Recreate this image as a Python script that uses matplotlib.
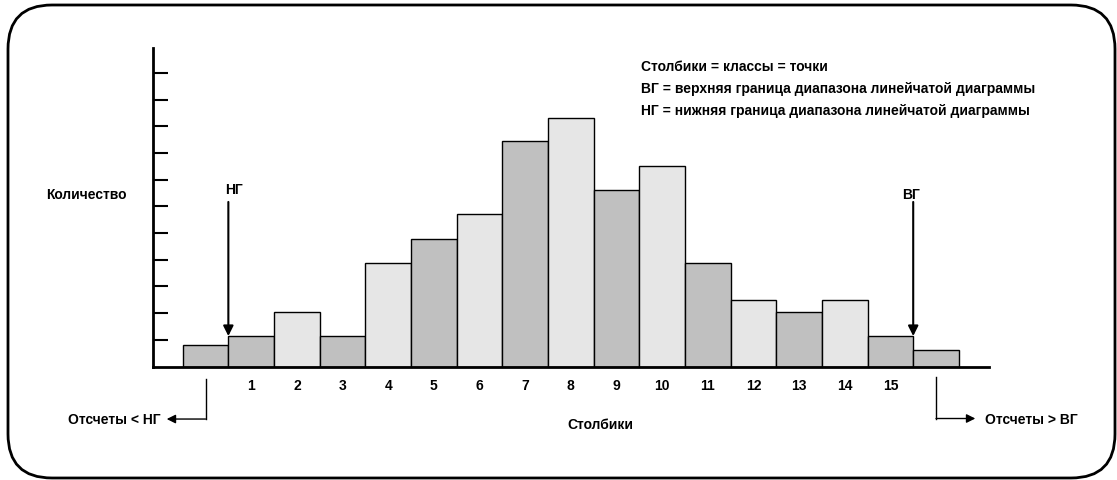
import matplotlib as mpl
mpl.use('Agg')
import matplotlib.pyplot as plt
from matplotlib.patches import FancyBboxPatch

plt.rcParams['font.family'] = ['Liberation Sans', 'DejaVu Sans']
plt.rcParams['font.weight'] = 'bold'

# data: index 0 = counts below LB, 1..15 = bins, 16 = counts above UB
bins = list(range(0, 17))
counts = [0.82, 1.14, 2.06, 1.14, 3.88, 4.79, 5.71, 8.44, 9.3, 6.6, 7.51,
          3.88, 2.5, 2.05, 2.51, 1.14, 0.61]
shade = ['d', 'd', 'l', 'd', 'l', 'd', 'l', 'd', 'l', 'd', 'l',
         'd', 'l', 'd', 'l', 'd', 'd']
tick_labels = [str(i) for i in range(1, 16)]
legend_lines = ['Столбики = классы = точки',
                'ВГ = верхняя граница диапазона линейчатой диаграммы',
                'НГ = нижняя граница диапазона линейчатой диаграммы']

W, H = 1117, 481
FS = 10
fig = plt.figure(figsize=(W / 100, H / 100), dpi=100)

# background axes in pixel units for the rounded frame
bg = fig.add_axes([0, 0, 1, 1])
bg.set_xlim(0, W)
bg.set_ylim(H, 0)
bg.axis('off')
bg.add_patch(FancyBboxPatch((8, 6), 1107, 473,
                            boxstyle='round,pad=0,rounding_size=44',
                            fc='white', ec='black', lw=2))

ax = fig.add_axes([152.7 / W, 1 - 367.5 / H, 836.3 / W, 318.7 / H])
ax.patch.set_alpha(0)
colors = {'d': '#c0c0c0', 'l': '#e6e6e6'}
ax.bar(bins, counts, width=1.0, color=[colors[s] for s in shade],
       edgecolor='black', linewidth=1.0)
ax.set_xlim(-1.157, 17.16)
ax.set_ylim(0, 11.95)

for s in ['top', 'right']:
    ax.spines[s].set_visible(False)
ax.spines['left'].set_linewidth(2)
ax.spines['bottom'].set_linewidth(2)

ax.set_yticks(range(1, 12))
ax.set_yticklabels([])
ax.tick_params(axis='y', direction='in', length=10.8, width=1.5)
ax.set_xticks(range(1, 16))
ax.set_xticklabels(tick_labels, fontsize=FS, fontweight='bold')
ax.tick_params(axis='x', length=0, pad=8)

arrow = dict(arrowstyle='-|>', color='black', lw=1.5, mutation_scale=15,
             shrinkA=0, shrinkB=0)
# LB / UB markers
ax.annotate('', xy=(0.5, counts[1]), xytext=(0.5, 6.17), arrowprops=arrow)
ax.text(0.62, 6.65, 'НГ', ha='center', va='center', fontsize=FS)
ax.annotate('', xy=(15.5, counts[15]), xytext=(15.5, 6.17), arrowprops=arrow)
ax.text(15.46, 6.47, 'ВГ', ha='center', va='center', fontsize=FS)

# under / over range brackets
thin = dict(arrowstyle='-|>', color='black', lw=1.0, mutation_scale=13,
            shrinkA=0, shrinkB=0)
ax.plot([0, 0], [-0.47, -1.97], color='black', lw=1.0, clip_on=False)
ax.annotate('', xy=(-0.85, -1.97), xytext=(0, -1.97), arrowprops=thin,
            annotation_clip=False)
ax.text(-0.99, -1.97, 'Отсчеты < НГ', ha='right', va='center', fontsize=FS)
ax.plot([16, 16], [-0.4, -1.95], color='black', lw=1.0, clip_on=False)
ax.annotate('', xy=(16.86, -1.95), xytext=(16, -1.95), arrowprops=thin,
            annotation_clip=False)
ax.text(17.08, -1.95, 'Отсчеты > ВГ', ha='left', va='center', fontsize=FS)

fig.text(600 / W, 1 - 425 / H, 'Столбики', ha='center', va='center', fontsize=FS)
fig.text(86.7 / W, 1 - 195 / H, 'Количество', ha='center', va='center', fontsize=FS)
for i, line in enumerate(legend_lines):
    fig.text(641 / W, 1 - (67 + 22 * i) / H, line, ha='left', va='center',
             fontsize=FS)

fig.savefig('out.png', dpi=100)
